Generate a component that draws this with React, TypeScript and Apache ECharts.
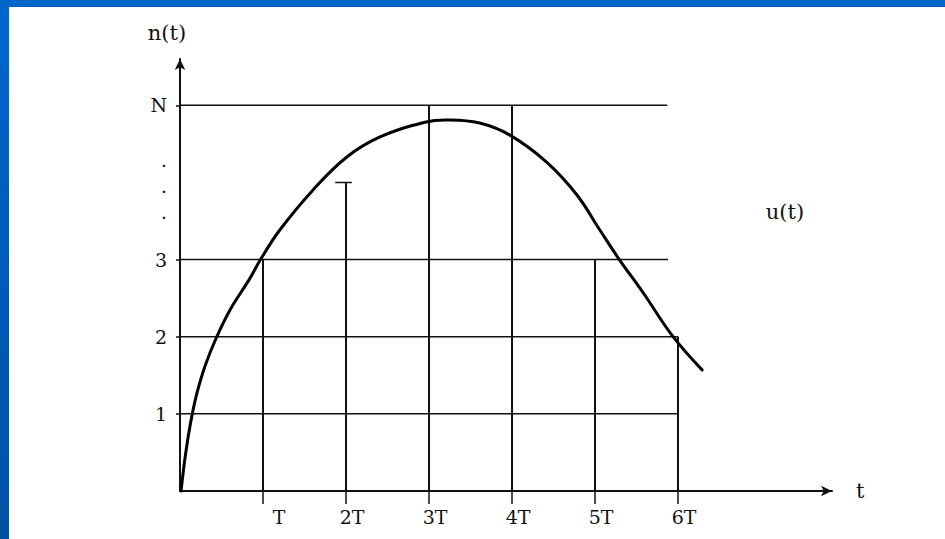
import React, { useEffect, useRef } from 'react';
import * as echarts from 'echarts';

// curve u(t): t in units of T, n in levels
const curveT = [0.012, 0.035, 0.057, 0.102, 0.148, 0.204, 0.305, 0.435, 0.604, 0.833, 0.97, 1.2, 1.6, 2.01, 2.41, 2.95, 3.22, 3.61, 3.98, 4.42, 4.78, 5.06, 5.28, 5.58, 5.94, 6.29];
const curveN = [0, 0.21, 0.4, 0.726, 1.0, 1.27, 1.63, 1.98, 2.35, 2.74, 3.0, 3.38, 3.9, 4.33, 4.59, 4.78, 4.81, 4.77, 4.61, 4.26, 3.84, 3.38, 3.02, 2.57, 2.0, 1.57];

// sampled / quantised values at each T
const sampleT = [1, 2, 3, 4, 5, 6];
const sampleU = [3, 4, 5, 5, 3, 2];

// horizontal level lines and where they end
const levelValues = [1, 2, 3, 5];
const levelEnds = [6.0, 6.0, 5.88, 5.87];

// small cap on the 2T sample
const capFrom = [1.87];
const capTo = [2.07];
const capLevel = [4];

// axis ticks / labels
const xTickValues = [1, 2, 3, 4, 5, 6];
const xTickLabels = ['T', '2T', '3T', '4T', '5T', '6T'];
const yLabelValues = [1, 2, 3, 3.55, 3.89, 4.23, 5];
const yLabelTexts = ['1', '2', '3', '·', '·', '·', 'N'];
const yTickValues = [1, 2, 3, 5];

const FONT = '"DejaVu Serif", "Liberation Serif", serif';
const INK = '#111111';

export default function App() {
  const ref = useRef<HTMLDivElement>(null);

  useEffect(() => {
    if (!ref.current) return;
    const chart = echarts.init(ref.current, null, { renderer: 'svg' });

    const series: any[] = [];

    levelValues.forEach((lv, i) => {
      series.push({
        type: 'line',
        data: [[0, lv], [levelEnds[i], lv]],
        symbol: 'none',
        silent: true,
        lineStyle: { color: INK, width: 1.5 },
        z: 2,
      });
    });

    sampleT.forEach((t, i) => {
      series.push({
        type: 'line',
        data: [[t, 0], [t, sampleU[i]]],
        symbol: 'none',
        silent: true,
        lineStyle: { color: INK, width: 2 },
        z: 2,
      });
    });

    capFrom.forEach((c, i) => {
      series.push({
        type: 'line',
        data: [[c, capLevel[i]], [capTo[i], capLevel[i]]],
        symbol: 'none',
        silent: true,
        lineStyle: { color: INK, width: 1.5 },
        z: 2,
      });
    });

    series.push({
      type: 'custom',
      name: 'u(t)',
      data: curveT.map((t, i) => [t, curveN[i]]),
      encode: { x: 0, y: 1 },
      silent: true,
      z: 3,
      renderItem: (params: any, api: any) => {
        if (params.dataIndex !== 0) return null;
        const pts = curveT.map((t, i) => api.coord([t, curveN[i]]));
        return {
          type: 'polyline',
          shape: { points: pts, smooth: 0.4 },
          style: { stroke: '#000000', lineWidth: 3, fill: 'none', lineJoin: 'round', lineCap: 'round' },
        };
      },
    });

    const option: any = {
      animation: false,
      backgroundColor: '#ffffff',
      grid: { left: 180, right: 113, top: 59, bottom: 48, containLabel: false },
      xAxis: {
        type: 'value',
        min: 0,
        max: 7.855,
        splitLine: { show: false },
        axisLine: {
          show: true,
          symbol: ['none', 'arrow'],
          symbolSize: [8, 11],
          lineStyle: { color: INK, width: 2 },
        },
        axisTick: {
          show: true,
          customValues: xTickValues,
          length: 13,
          inside: false,
          lineStyle: { color: INK, width: 1.5 },
        },
        axisLabel: {
          show: true,
          customValues: xTickValues,
          margin: 16,
          formatter: (v: number) => {
            const i = xTickValues.indexOf(v);
            if (i < 0) return '';
            return i === 0 ? '{a|' + xTickLabels[i] + '}' : '{b|' + xTickLabels[i] + '}';
          },
          rich: {
            a: { fontFamily: FONT, fontSize: 19, color: INK, padding: [0, 0, 0, 32] },
            b: { fontFamily: FONT, fontSize: 19, color: INK, padding: [0, 0, 0, 12] },
          },
        },
        name: 't',
        nameLocation: 'end',
        nameGap: 24,
        nameTextStyle: { fontFamily: FONT, fontSize: 21, color: INK, verticalAlign: 'middle' },
      },
      yAxis: {
        type: 'value',
        min: 0,
        max: 5.6,
        splitLine: { show: false },
        axisLine: {
          show: true,
          symbol: ['none', 'arrow'],
          symbolSize: [8, 11],
          lineStyle: { color: INK, width: 2 },
        },
        axisTick: {
          show: true,
          customValues: yTickValues,
          length: 4,
          inside: false,
          lineStyle: { color: INK, width: 1.5 },
        },
        axisLabel: {
          show: true,
          customValues: yLabelValues,
          margin: 13,
          fontFamily: FONT,
          fontSize: 19,
          color: INK,
          formatter: (v: number) => {
            let best = 0;
            for (let i = 0; i < yLabelValues.length; i++) {
              if (Math.abs(yLabelValues[i] - v) < Math.abs(yLabelValues[best] - v)) best = i;
            }
            return yLabelTexts[best];
          },
        },
        name: 'n(t)',
        nameLocation: 'end',
        nameGap: 16,
        nameTextStyle: { fontFamily: FONT, fontSize: 21, color: INK, align: 'center', padding: [0, 26, 0, 0] },
      },
      graphic: [
        {
          type: 'rect',
          shape: { x: 0, y: 0, width: 945, height: 7 },
          style: { fill: '#0066CC' },
          silent: true,
        },
        {
          type: 'rect',
          shape: { x: 0, y: 0, width: 9, height: 539 },
          style: {
            fill: new echarts.graphic.LinearGradient(0, 0, 0, 1, [
              { offset: 0, color: '#0066CC' },
              { offset: 1, color: '#0052A3' },
            ]),
          },
          silent: true,
        },
        {
          type: 'text',
          x: 785,
          y: 212,
          style: {
            text: 'u(t)',
            fontFamily: FONT,
            fontSize: 21,
            fill: INK,
            align: 'center',
            verticalAlign: 'middle',
          },
          silent: true,
        },
      ],
      series,
    };

    chart.setOption(option);
    return () => chart.dispose();
  }, []);

  return (
    <div
      ref={ref}
      style={{ position: 'fixed', left: 0, top: 0, width: 945, height: 539 }}
    />
  );
}
